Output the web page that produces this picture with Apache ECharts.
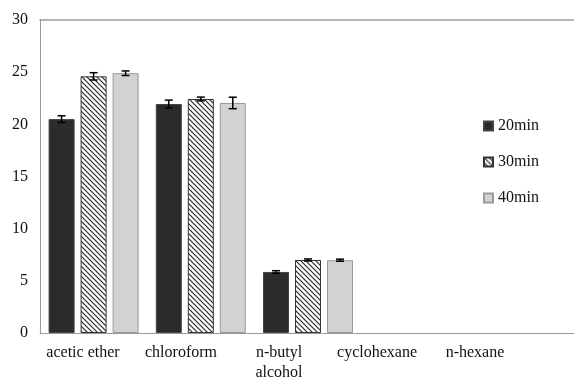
<!DOCTYPE html>
<html>
<head>
<meta charset="utf-8">
<script src="https://cdn.jsdelivr.net/npm/echarts@6/dist/echarts.min.js"></script>
<style>html,body{margin:0;padding:0;background:#fff;overflow:hidden}#c{width:574px;height:380px}</style>
</head>
<body>
<div id="c"></div>
<script>
var categories = ['acetic ether', 'chloroform', 'n-butyl\nalcohol', 'cyclohexane', 'n-hexane'];
var seriesNames = ['20min', '30min', '40min'];
var values20 = [20.5, 21.95, 5.85, 0, 0];
var values30 = [24.6, 22.43, 7.0, 0, 0];
var values40 = [24.9, 22.05, 6.98, 0, 0];
var err20 = [0.32, 0.37, 0.12, 0, 0];
var err30 = [0.35, 0.18, 0.1, 0, 0];
var err40 = [0.22, 0.55, 0.1, 0, 0];
var yTicks = [0, 5, 10, 15, 20, 25, 30];

function hatch() {
  var c = document.createElement('canvas');
  c.width = 5; c.height = 5;
  var g = c.getContext('2d');
  g.fillStyle = '#ffffff';
  g.fillRect(0, 0, 5, 5);
  g.strokeStyle = '#2a2a2a';
  g.lineWidth = 1.2;
  g.beginPath();
  g.moveTo(-1, -1); g.lineTo(6, 6);
  g.moveTo(-1, 4); g.lineTo(1, 6);
  g.moveTo(4, -1); g.lineTo(6, 1);
  g.stroke();
  return c;
}

var BW = 26, GAP = 6;
var font = '"Liberation Serif", "Times New Roman", serif';
var vals = [values20, values30, values40];
var errs = [err20, err30, err40];
var styles = [
  {color: '#2b2b2b', borderColor: '#444', borderWidth: 1},
  {color: {image: hatch(), repeat: 'repeat'}, borderColor: '#333', borderWidth: 1},
  {color: '#d2d2d2', borderColor: '#9a9a9a', borderWidth: 1}
];

var series = [];
for (var i = 0; i < 3; i++) {
  series.push({
    name: seriesNames[i], type: 'bar', xAxisIndex: 0, yAxisIndex: 0,
    barWidth: BW, barGap: (GAP / BW * 100) + '%',
    data: vals[i].map(function (v) { return v === 0 ? '-' : v; }),
    itemStyle: styles[i], silent: true
  });
}
for (var k = 0; k < 3; k++) {
  (function (k) {
    var data = [];
    for (var j = 0; j < categories.length; j++) {
      if (errs[k][j] > 0) data.push([j, vals[k][j] - errs[k][j], vals[k][j] + errs[k][j]]);
    }
    series.push({
      type: 'custom', xAxisIndex: 0, yAxisIndex: 0, z: 10, silent: true,
      data: data,
      renderItem: function (params, api) {
        var off = (k - 1) * (BW + GAP);
        var lo = api.coord([api.value(0), api.value(1)]);
        var hi = api.coord([api.value(0), api.value(2)]);
        var x = lo[0] + off, hw = 4;
        var st = {stroke: '#000', lineWidth: 1.5};
        return {type: 'group', children: [
          {type: 'line', shape: {x1: x, y1: lo[1], x2: x, y2: hi[1]}, style: st},
          {type: 'line', shape: {x1: x - hw, y1: lo[1], x2: x + hw, y2: lo[1]}, style: st},
          {type: 'line', shape: {x1: x - hw, y1: hi[1], x2: x + hw, y2: hi[1]}, style: st}
        ]};
      }
    });
  })(k);
}

var chart = echarts.init(document.getElementById('c'), null, {renderer: 'canvas'});
chart.setOption({
  animation: false,
  backgroundColor: '#fff',
  textStyle: {fontFamily: font},
  legend: {
    data: seriesNames, orient: 'vertical', left: 478, top: 113,
    itemWidth: 9, itemHeight: 9, itemGap: 20, icon: 'rect',
    textStyle: {fontFamily: font, fontSize: 16, color: '#111', lineHeight: 16},
    selectedMode: false
  },
  grid: [
    {left: 40, width: 536, top: 20, bottom: 47, outerBoundsMode: 'none', containLabel: false},
    {left: 34, right: 50, top: 20, bottom: 47, outerBoundsMode: 'none', containLabel: false}
  ],
  xAxis: [
    {type: 'category', gridIndex: 0, data: categories, boundaryGap: true,
     axisLine: {lineStyle: {color: '#9a9a9a', width: 1}}, axisTick: {show: false}, axisLabel: {show: false}},
    {type: 'category', gridIndex: 1, data: categories,
     axisLine: {show: false}, axisTick: {show: false},
     axisLabel: {fontFamily: font, fontSize: 16, color: '#111', margin: 10, lineHeight: 20, interval: 0}},
    {type: 'category', gridIndex: 0, position: 'top', data: categories,
     axisLine: {show: true, lineStyle: {color: '#9a9a9a', width: 1.5}}, axisTick: {show: false}, axisLabel: {show: false}}
  ],
  yAxis: [
    {type: 'value', gridIndex: 0, min: 0, max: 30, interval: 5,
     axisLine: {show: true, lineStyle: {color: '#9a9a9a'}}, axisTick: {show: false}, splitLine: {show: false},
     axisLabel: {fontFamily: font, fontSize: 16, color: '#111', margin: 12,
       formatter: function (v) { return yTicks.indexOf(v) >= 0 ? String(v) : ''; }}},
    {type: 'value', gridIndex: 1, min: 0, max: 30, show: false}
  ],
  series: series
});
</script>
</body>
</html>
